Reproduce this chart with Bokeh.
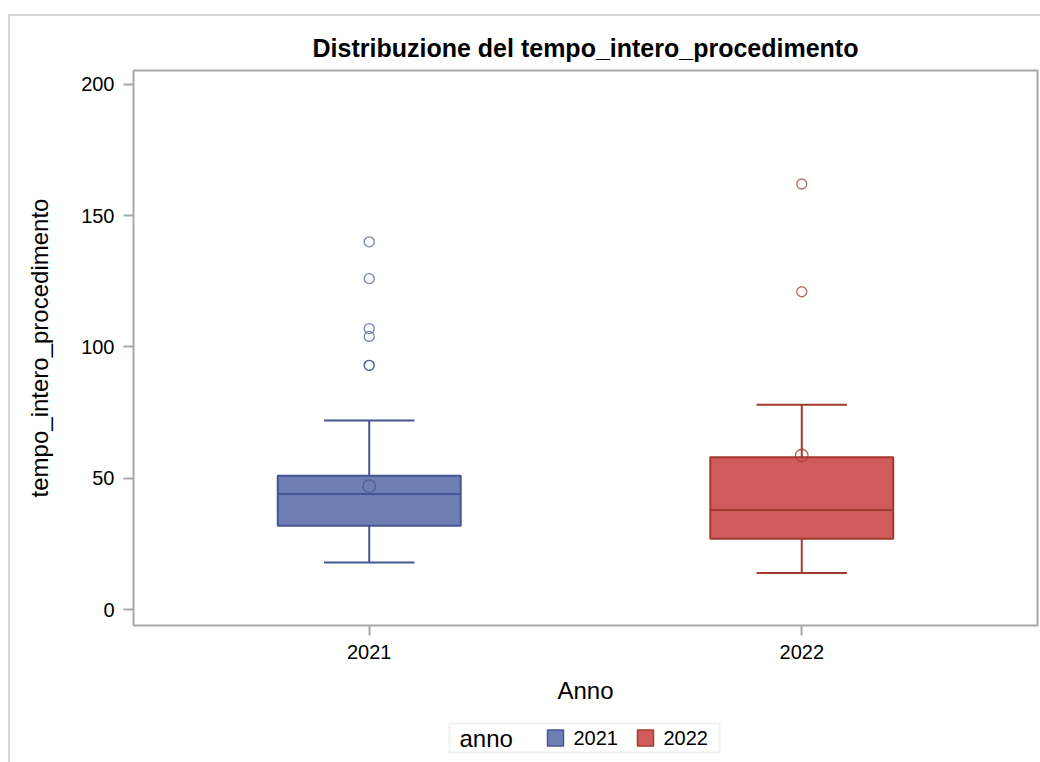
from bokeh.plotting import figure
from bokeh.models import ColumnDataSource, Range1d, FactorRange, Label, BoxAnnotation
from bokeh.core.properties import value
from bokeh.layouts import column
from bokeh.transform import dodge
from bokeh.embed import file_html
from bokeh.resources import INLINE

# Summary statistics of tempo_intero_procedimento per anno
years = ["2021", "2022"]
q1 = [32, 27]
median = [44, 38]
q3 = [51, 58]
whisker_low = [18, 14]
whisker_high = [72, 78]
mean = [47, 58.7]

# Outliers per anno
outliers_2021 = [140, 126, 107, 104, 93, 93]
outliers_2022 = [162, 121]

y_ticks = [0, 50, 100, 150, 200]

fills = ["#6F7EB3", "#D05B5B"]
lines = ["#445694", "#A23A2E"]

FONT = "Liberation Sans"
GREY = "#a6a9ac"

src = ColumnDataSource(dict(year=years, q1=q1, med=median, q3=q3, lo=whisker_low,
                            hi=whisker_high, mean=mean, fill=fills, line=lines))

out_years = ["2021"] * len(outliers_2021) + ["2022"] * len(outliers_2022)
out_vals = outliers_2021 + outliers_2022
out_colors = [lines[0]] * len(outliers_2021) + [lines[1]] * len(outliers_2022)
osrc = ColumnDataSource(dict(year=out_years, val=out_vals, line=out_colors))

p = figure(x_range=FactorRange(factors=years, range_padding=0.045),
           y_range=Range1d(-6, 205.2),
           width=1030, height=700, output_backend="svg", toolbar_location=None,
           min_border_left=123, min_border_right=3, min_border_top=54, min_border_bottom=91)

BOX_W = 0.423
CAP_W = 0.209

# whiskers
p.segment(x0="year", x1="year", y0="q3", y1="hi", line_color="line", line_width=2, source=src)
p.segment(x0="year", x1="year", y0="lo", y1="q1", line_color="line", line_width=2, source=src)
# caps
p.segment(x0=dodge("year", -CAP_W / 2, range=p.x_range), x1=dodge("year", CAP_W / 2, range=p.x_range),
          y0="hi", y1="hi", line_color="line", line_width=2, source=src)
p.segment(x0=dodge("year", -CAP_W / 2, range=p.x_range), x1=dodge("year", CAP_W / 2, range=p.x_range),
          y0="lo", y1="lo", line_color="line", line_width=2, source=src)
# boxes
p.vbar(x="year", width=BOX_W, bottom="q1", top="q3", fill_color="fill",
       line_color="line", line_width=2, source=src)
# medians
p.segment(x0=dodge("year", -BOX_W / 2, range=p.x_range), x1=dodge("year", BOX_W / 2, range=p.x_range),
          y0="med", y1="med", line_color="line", line_width=2, source=src)
# means
p.scatter(x="year", y="mean", marker="circle", size=12.5, fill_color=None,
          line_color="line", line_width=1.3, line_alpha=0.8, source=src)
# outliers
p.scatter(x="year", y="val", marker="circle", size=10, fill_color=None,
          line_color="line", line_width=1.3, line_alpha=0.75, source=osrc)

p.title.text = "Distribuzione del tempo_intero_procedimento"
p.title.align = "center"
p.title.text_font = FONT
p.title.text_font_size = "25px"
p.title.text_font_style = "bold"
p.title.text_color = "#000000"
p.title.standoff = 18

p.xgrid.visible = False
p.ygrid.visible = False
p.outline_line_color = GREY
p.outline_line_width = 2
p.background_fill_color = "white"
p.border_fill_color = "white"

for ax in (p.xaxis[0], p.yaxis[0]):
    ax.axis_line_color = None
    ax.major_tick_line_color = GREY
    ax.major_tick_line_width = 2
    ax.major_tick_out = 10
    ax.major_tick_in = 0
    ax.minor_tick_line_color = None
    ax.major_label_text_font = FONT
    ax.major_label_text_font_size = "20px"
    ax.major_label_text_color = "#000000"
    ax.axis_label_text_font = FONT
    ax.axis_label_text_font_size = "24px"
    ax.axis_label_text_font_style = "normal"
    ax.axis_label_text_color = "#000000"

p.yaxis.ticker = y_ticks
p.yaxis.major_label_standoff = 9
p.yaxis.axis_label_standoff = 25
p.xaxis.major_label_standoff = 9
p.xaxis.axis_label_standoff = 15
p.xaxis.axis_label = "Anno"
p.yaxis.axis_label = "tempo_intero_procedimento"

# Legend strip under the chart. Its frame lines up with the chart frame, so the
# ranges are set to page pixels: x across the frame, y measured up from the page bottom.
FRAME_X0, FRAME_X1 = 133, 1037
STRIP_H = 46
leg = figure(width=1030, height=STRIP_H, x_range=Range1d(FRAME_X0, FRAME_X1),
             y_range=Range1d(0, STRIP_H), x_axis_type=None, y_axis_type=None,
             output_backend="svg", toolbar_location=None,
             min_border=0, min_border_left=0, min_border_right=0, min_border_top=0,
             min_border_bottom=0)
leg.outline_line_color = None
leg.grid.visible = False
leg.background_fill_color = "white"
leg.border_fill_color = "white"

LEG_LEFT, LEG_RIGHT, LEG_BOTTOM, LEG_TOP = 449, 719, 10, 39
LEG_MID = (LEG_BOTTOM + LEG_TOP) / 2
SWATCH_X0, ITEM_STEP, SWATCH = 555, 90, 16

leg.add_layout(BoxAnnotation(left=LEG_LEFT, right=LEG_RIGHT, bottom=LEG_BOTTOM, top=LEG_TOP,
                             fill_alpha=0, line_color="#d0d0d0", line_width=2))
leg.add_layout(Label(x=LEG_LEFT + 10, y=LEG_MID, text="anno", text_baseline="middle",
                     text_font=FONT, text_font_size="24px", text_color="#000000"))

sw_x = [SWATCH_X0 + i * ITEM_STEP for i in range(len(years))]
leg_src = ColumnDataSource(dict(x=sw_x, tx=[x + SWATCH / 2 + 10 for x in sw_x],
                                y=[LEG_MID] * len(years), label=years, fill=fills, line=lines))
leg.rect(x="x", y="y", width=SWATCH, height=SWATCH, width_units="screen", height_units="screen",
         fill_color="fill", line_color="line", line_width=1.5, source=leg_src)
leg.text(x="tx", y="y", text="label", text_baseline="middle", text_font=value(FONT),
         text_font_size="20px", text_color="#000000", source=leg_src)

layout = column(p, leg, margin=(14, 0, 0, 8),
                styles={"border-top": "2px solid #d5d5d5", "border-left": "2px solid #d5d5d5"})

open("out.html", "w").write(file_html(layout, INLINE))
